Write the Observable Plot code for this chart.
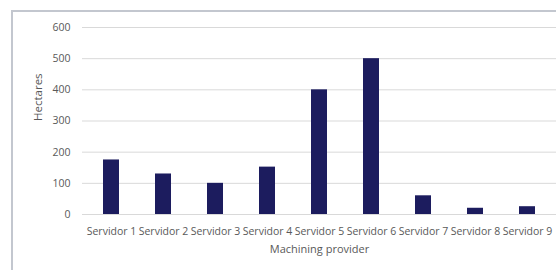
<!DOCTYPE html>
<html>
<head>
<meta charset="utf-8">
<script src="https://cdn.jsdelivr.net/npm/d3@7"></script>
<script src="https://cdn.jsdelivr.net/npm/@observablehq/plot@0.6"></script>
<style>
  html, body { margin: 0; padding: 0; background: #fff; overflow: hidden; }
  #wrap { position: relative; width: 556px; height: 270px; }
  #frame { position: absolute; left: 11px; top: 10px; width: 600px; height: 300px;
           border-left: 2px solid #c3c7cf; border-top: 2px solid #c3c7cf; pointer-events: none; }
</style>
</head>
<body>
<div id="wrap"><div id="frame"></div></div>
<script>
const categories = ["Servidor 1","Servidor 2","Servidor 3","Servidor 4","Servidor 5","Servidor 6","Servidor 7","Servidor 8","Servidor 9"];
const hectares = [175, 130, 100, 152, 400, 500, 60, 20, 25];
const yTicks = [0, 100, 200, 300, 400, 500, 600];
const xTitle = "Machining provider";
const yTitle = "Hectares";

const data = categories.map((c, i) => ({category: c, value: hectares[i]}));
const textColor = "#595959";

const chart = Plot.plot({
  width: 556,
  height: 270,
  marginTop: 27,
  marginBottom: 56,
  marginLeft: 82,
  marginRight: 0,
  style: {fontFamily: "'Open Sans', sans-serif", fontSize: "10px", color: textColor, background: "transparent"},
  x: {domain: categories, paddingInner: 0.69, paddingOuter: 0.345, label: null},
  y: {domain: [0, 600], label: null},
  marks: [
    Plot.gridY(yTicks, {stroke: "#d9d9d9", strokeOpacity: 1, strokeWidth: 1}),
    Plot.barY(data, {x: "category", y: "value", fill: "#1c1c5e"}),
    Plot.axisY(yTicks, {tickSize: 0, tickPadding: 12, fontSize: 10.5, fill: textColor, label: null}),
    Plot.axisX({tickSize: 0, tickPadding: 13, fontSize: 10.5, fill: textColor, label: null}),
    Plot.text([yTitle], {frameAnchor: "left", dx: -44, rotate: -90, fontSize: 11.5, fill: textColor}),
    Plot.text([xTitle], {frameAnchor: "bottom", dy: 38, fontSize: 11, fill: textColor})
  ]
});
document.getElementById("wrap").prepend(chart);
</script>
</body>
</html>
